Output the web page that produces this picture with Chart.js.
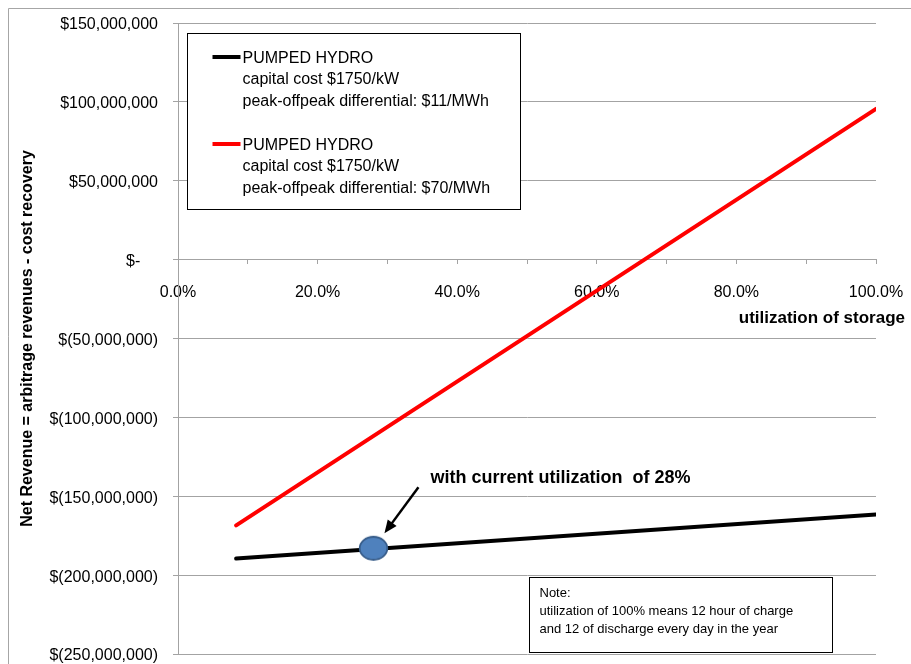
<!DOCTYPE html>
<html>
<head>
<meta charset="utf-8">
<script src="https://cdn.jsdelivr.net/npm/chart.js@4.4.1/dist/chart.umd.min.js"></script>
<style>
  html, body { margin: 0; padding: 0; background: #fff; }
  #wrap { width: 911px; height: 664px; }
</style>
</head>
<body>
<div id="wrap"><canvas id="chart" width="911" height="664"></canvas></div>
<script>
// utilization of storage (%) vs. net revenue ($/yr)
const utilization = [8.33, 100];
const revenueLow = [-189.5e6, -161.5e6];   // $11/MWh differential
const revenueHigh = [-168.5e6, 95.5e6];    // $70/MWh differential
const currentUtil = [28];
const currentRevenue = [-183e6];

const xLabelled = [0, 20, 40, 60, 80, 100];
const seriesText = [
  ['PUMPED HYDRO', 'capital cost $1750/kW', 'peak-offpeak differential: $11/MWh'],
  ['PUMPED HYDRO', 'capital cost $1750/kW', 'peak-offpeak differential: $70/MWh']
];
const noteLines = ['Note:', 'utilization of 100% means 12 hour of charge', 'and 12 of discharge every day in the year'];
const calloutText = 'with current utilization  of 28%';

const GRID = '#A3A3A3';
const FONT = '"Liberation Sans", Arial, sans-serif';
Chart.defaults.font.family = FONT;
Chart.defaults.font.size = 16;
Chart.defaults.color = '#000';

// blue ellipse used as the marker for the current utilization
const dot = document.createElement('canvas');
dot.width = 31; dot.height = 27;
const dctx = dot.getContext('2d');
dctx.beginPath();
dctx.ellipse(15.5, 13.5, 13.8, 11.5, 0, 0, Math.PI * 2);
dctx.fillStyle = '#4F81BD';
dctx.fill();
dctx.lineWidth = 1.8;
dctx.strokeStyle = '#385D8A';
dctx.stroke();

const pts = (xs, ys) => xs.map((x, i) => ({ x, y: ys[i] }));

const money = v => {
  if (v === 0) return '$-    ';
  const s = Math.abs(v).toLocaleString('en-US');
  return v < 0 ? '$(' + s + ')' : '$' + s;
};

// scales keep the plot area where layout.padding puts it
const noPad = scale => {
  scale.paddingLeft = 0; scale.paddingRight = 0;
  scale.paddingTop = 0; scale.paddingBottom = 0;
};

// outer frame
const frame = {
  id: 'frame',
  beforeDraw(chart) {
    const c = chart.ctx;
    c.save();
    c.fillStyle = '#fff';
    c.fillRect(0, 0, chart.width, chart.height);
    c.strokeStyle = '#A6A6A6';
    c.lineWidth = 1;
    c.beginPath();
    c.moveTo(8.5, chart.height);
    c.lineTo(8.5, 8.5);
    c.lineTo(chart.width, 8.5);
    c.stroke();
    c.restore();
  }
};

// legend box, note box, callout arrow and x axis caption
const overlays = {
  id: 'overlays',
  afterDraw(chart) {
    const c = chart.ctx;
    const { left, top, right, bottom } = chart.chartArea;
    const xs = chart.scales.x, ys = chart.scales.y;
    c.save();

    // legend
    const bx = Math.round(left) + 9.5, by = Math.round(top) + 10.5;
    c.fillStyle = '#fff';
    c.fillRect(bx, by, 333, 176);
    c.strokeStyle = '#000';
    c.lineWidth = 1;
    c.strokeRect(bx, by, 333, 176);
    c.font = '16px ' + FONT;
    c.textBaseline = 'middle';
    c.textAlign = 'left';
    chart.data.datasets.slice(1).forEach((ds, i) => {
      const y0 = by + 23.5 + i * 87;
      c.strokeStyle = ds.borderColor;
      c.lineWidth = 4;
      c.beginPath();
      c.moveTo(bx + 25, y0);
      c.lineTo(bx + 53, y0);
      c.stroke();
      c.fillStyle = '#000';
      seriesText[i].forEach((t, j) => c.fillText(t, bx + 55, y0 + 1.5 + j * 21.5));
    });

    // note
    const nx = Math.round(right) - 346.5, ny = Math.round(bottom) - 76.5;
    c.fillStyle = '#fff';
    c.fillRect(nx, ny, 303, 75);
    c.strokeStyle = '#000';
    c.lineWidth = 1;
    c.strokeRect(nx, ny, 303, 75);
    c.fillStyle = '#000';
    c.font = '13px ' + FONT;
    noteLines.forEach((t, j) => c.fillText(t, nx + 10, ny + 16 + j * 18));

    // callout pointing at the current-utilization marker
    const px = xs.getPixelForValue(currentUtil[0]);
    const py = ys.getPixelForValue(currentRevenue[0]);
    const tipX = px + 11, tipY = py - 15, tailX = px + 45, tailY = py - 61;
    const ang = Math.atan2(tipY - tailY, tipX - tailX);
    c.strokeStyle = '#000';
    c.lineWidth = 2.5;
    c.beginPath();
    c.moveTo(tailX, tailY);
    c.lineTo(tipX - 8 * Math.cos(ang), tipY - 8 * Math.sin(ang));
    c.stroke();
    c.fillStyle = '#000';
    c.beginPath();
    c.moveTo(tipX, tipY);
    c.lineTo(tipX - 13 * Math.cos(ang) + 5.5 * Math.sin(ang), tipY - 13 * Math.sin(ang) - 5.5 * Math.cos(ang));
    c.lineTo(tipX - 13 * Math.cos(ang) - 5.5 * Math.sin(ang), tipY - 13 * Math.sin(ang) + 5.5 * Math.cos(ang));
    c.closePath();
    c.fill();
    c.font = 'bold 18px ' + FONT;
    c.fillText(calloutText, px + 57, py - 70);

    // x axis caption
    c.font = 'bold 17px ' + FONT;
    c.textAlign = 'right';
    c.fillText('utilization of storage', chart.width - 6, ys.getPixelForValue(0) + 59);

    c.restore();
  }
};

new Chart(document.getElementById('chart').getContext('2d'), {
  type: 'scatter',
  data: {
    datasets: [
      { label: 'current utilization', data: pts(currentUtil, currentRevenue), pointStyle: dot, pointRadius: 12, showLine: false, order: 0 },
      { label: 'PUMPED HYDRO $11/MWh', data: pts(utilization, revenueLow), borderColor: '#000000', borderWidth: 4, borderCapStyle: 'round', pointRadius: 0, showLine: true, order: 1 },
      { label: 'PUMPED HYDRO $70/MWh', data: pts(utilization, revenueHigh), borderColor: '#FF0000', borderWidth: 4, borderCapStyle: 'round', pointRadius: 0, showLine: true, order: 2 }
    ]
  },
  options: {
    responsive: false,
    animation: false,
    layout: { autoPadding: false, padding: { left: 8, top: 23, right: 35, bottom: 10 } },
    plugins: { legend: { display: false }, tooltip: { enabled: false } },
    scales: {
      x: {
        type: 'linear',
        position: { y: 0 },
        min: 0, max: 100,
        grid: { drawOnChartArea: false, drawTicks: true, tickLength: 4, color: GRID },
        border: { display: true, color: GRID, width: 1 },
        ticks: {
          stepSize: 10, autoSkip: false, maxRotation: 0, padding: 19,
          callback: v => xLabelled.includes(v) ? v.toFixed(1) + '%' : ''
        },
        afterFit: noPad
      },
      y: {
        min: -250e6, max: 150e6,
        grid: { color: GRID, tickLength: 5, lineWidth: 1 },
        border: { display: true, color: GRID, width: 1 },
        ticks: { stepSize: 50e6, padding: 15, labelOffset: 2, callback: money },
        title: {
          display: true,
          text: 'Net Revenue = arbitrage revenues - cost recovery',
          font: { size: 16, weight: 'bold' },
          padding: { top: 10, bottom: 0 }
        },
        afterFit(scale) { scale.width = 170; noPad(scale); }
      }
    }
  },
  plugins: [frame, overlays]
});
</script>
</body>
</html>
